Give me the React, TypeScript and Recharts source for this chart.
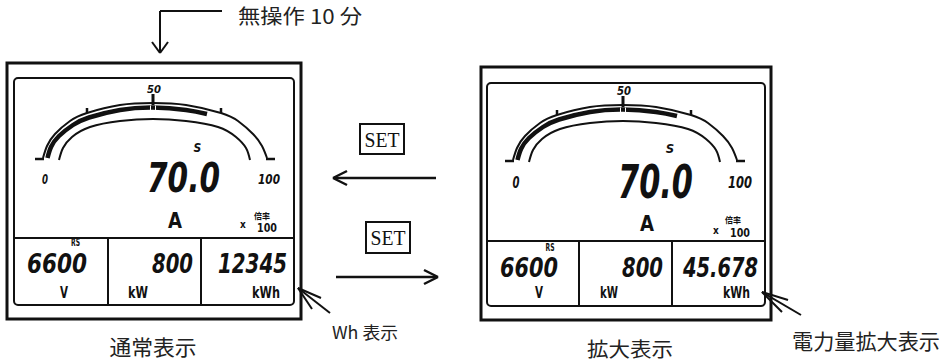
import React from "react";
import {
  ComposedChart,
  XAxis,
  YAxis,
  Line,
  ReferenceLine,
  ReferenceArea,
  ReferenceDot,
} from "recharts";

// gauge arcs (page px, y down)
const gaugeOuter: [number, number][] = [
  [43, 158], [47, 146], [55, 134], [70, 121], [87, 113], [120, 105],
  [153, 103], [186, 105], [221, 113], [238, 121], [253, 134], [262, 146], [267, 158],
];
const gaugeInner: [number, number][] = [
  [59, 160], [63, 148], [72, 137], [90, 127], [120, 121], [153, 119],
  [186, 121], [218, 127], [236, 137], [246, 148], [250, 160],
];
// filled bar graph, 0 .. ~70 %
const gaugeBar: [number, number][] = [
  [47.5, 158], [51, 147], [59, 136], [73, 125], [89, 117.5], [120, 110],
  [153, 107.5], [186, 110], [207, 114],
];

const scaleLabels = ["0", "50", "100"];
const mainReading = "70.0";
const mainUnit = "A";
const phaseLabel = "S";
const lineLabel = "RS";
const multiplier = ["x", "100", "倍率"];
const normalReadings = ["6600", "800", "12345"];
const enlargedReadings = ["6600", "800", "45.678"];
const cellUnits = ["V", "kW", "kWh"];
const captions = ["通常表示", "拡大表示"];
const notes = ["無操作 10 分", "Wh 表示", "電力量拡大表示"];
const keyLabel = "SET";

const INK = "#111";
const SEG = '"DejaVu Sans Condensed", "DejaVu Sans", sans-serif';
const JP = '"Noto Sans CJK JP", sans-serif';
const SERIF = '"Liberation Serif", "DejaVu Serif", serif';

type TOpt = {
  size: number;
  font?: string;
  weight?: number;
  italic?: boolean;
  len?: number;
  anchor?: "start" | "middle" | "end";
  base?: "central" | "auto";
  fill?: string;
};

function label(key: string, x: number, y: number, value: string, o: TOpt) {
  return (
    <ReferenceDot
      key={key}
      x={x}
      y={y}
      r={0}
      ifOverflow="visible"
      shape={(p: any) => (
        <text
          x={p.cx}
          y={p.cy}
          fill={o.fill ?? INK}
          fontSize={o.size}
          fontFamily={o.font ?? SEG}
          fontWeight={o.weight ?? 700}
          fontStyle={o.italic ? "italic" : "normal"}
          textAnchor={o.anchor ?? "start"}
          dominantBaseline={o.base ?? "auto"}
          textLength={o.len}
          lengthAdjust={o.len ? "spacingAndGlyphs" : undefined}
        >
          {value}
        </text>
      )}
    />
  );
}

function seg(key: string, x1: number, y1: number, x2: number, y2: number, w = 2, color = INK) {
  return (
    <ReferenceLine
      key={key}
      segment={[{ x: x1, y: y1 }, { x: x2, y: y2 }]}
      stroke={color}
      strokeWidth={w}
      ifOverflow="visible"
    />
  );
}

function box(key: string, r: number[], w: number, rx = 0) {
  return (
    <ReferenceArea
      key={key}
      x1={r[0]}
      y1={r[1]}
      x2={r[2]}
      y2={r[3]}
      ifOverflow="visible"
      shape={(p: any) => (
        <rect x={p.x} y={p.y} width={p.width} height={p.height} rx={rx}
          fill="none" stroke={INK} strokeWidth={w} />
      )}
    />
  );
}

function curve(key: string, pts: [number, number][], dx: number, dy: number, w: number) {
  return (
    <Line
      key={key}
      data={pts.map(([x, y]) => ({ x: x + dx, y: y + dy }))}
      dataKey="y"
      type="natural"
      stroke={INK}
      strokeWidth={w}
      dot={false}
      activeDot={false}
      isAnimationActive={false}
    />
  );
}

type Meter = {
  dx: number;
  dy: number;
  outer: number[];
  inner: number[];
  split: number;
  cols: number[];
  scale: [number, number, number, number][]; // x, y, size, len
  s: [number, number, number];
  main: [number, number, number, number];
  unit: [number, number, number];
  mul: [number, number, number, number, number, number]; // x-x, x-y, 100-x, 100-y, kanji-x, kanji-y
  rs: [number, number];
  cells: [number, number, number][];
  units: [number, number, number][];
};

const LEFT: Meter = {
  dx: 0,
  dy: 0,
  outer: [7, 63, 301, 319],
  inner: [14, 78, 294, 305],
  split: 238,
  cols: [108, 201],
  scale: [[45, 184, 14, 6], [154, 93, 11, 14], [269, 184, 14, 22]],
  s: [197.5, 152, 12],
  main: [147, 192, 41, 73],
  unit: [175, 228, 21],
  mul: [243, 228, 257, 232, 262, 215],
  rs: [75.5, 246],
  cells: [[27, 273, 60], [152, 273, 41], [218, 273, 69]],
  units: [[60, 298, 8], [128, 298, 20], [252, 298, 28]],
};

const RIGHT: Meter = {
  dx: 470,
  dy: 2,
  outer: [481, 67, 771, 320],
  inner: [487, 83, 765, 306],
  split: 241,
  cols: [579, 672],
  scale: [[516, 188, 16, 7], [624, 95, 12, 14], [740, 188, 16, 24]],
  s: [670, 153, 13],
  main: [618, 198, 46, 75],
  unit: [647, 231, 22],
  mul: [716, 234, 730, 237, 733, 219],
  rs: [550, 251],
  cells: [[500, 277, 58], [622, 277, 41], [683, 277, 75]],
  units: [[535, 298, 8], [600, 298, 18], [723, 298, 27]],
};

function meter(id: string, m: Meter, readings: string[]) {
  const { dx, dy } = m;
  const g = (k: string, x1: number, y1: number, x2: number, y2: number, w: number, c = INK) =>
    seg(id + k, x1 + dx, y1 + dy, x2 + dx, y2 + dy, w, c);
  const els: React.ReactNode[] = [
    box(id + "o", m.outer, 3),
    box(id + "i", m.inner, 2, 4),
    seg(id + "h", m.inner[0], m.split, m.inner[2], m.split, 2),
    ...m.cols.map((c, i) => seg(id + "c" + i, c, m.split, c, m.inner[3], 2)),
    curve(id + "ao", gaugeOuter, dx, dy, 2),
    curve(id + "ai", gaugeInner, dx, dy, 2),
    curve(id + "ab", gaugeBar, dx, dy, 4.5),
    g("t0", 35, 159, 44, 159, 2.5),
    g("t100", 266, 159, 275, 159, 2.5),
    g("t50", 153, 94, 153, 105, 3),
    g("w1", 150.5, 105.5, 150.5, 110, 1, "#fff"),
    g("w2", 155.5, 105.5, 155.5, 110, 1, "#fff"),
    g("t25", 87, 108, 87, 113, 2.5),
    g("t75", 221, 108, 221, 113, 2.5),
  ];
  scaleLabels.forEach((t, i) => {
    const [x, y, size, len] = m.scale[i];
    els.push(label(id + "s" + i, x, y, t, { size, len, italic: true, anchor: "middle" }));
  });
  els.push(label(id + "S", m.s[0], m.s[1], phaseLabel, { size: m.s[2], italic: true, anchor: "middle" }));
  els.push(label(id + "m", m.main[0], m.main[1], mainReading, { size: m.main[2], len: m.main[3], italic: true }));
  els.push(label(id + "u", m.unit[0], m.unit[1], mainUnit, { size: m.unit[2], len: 14, anchor: "middle" }));
  els.push(label(id + "mx", m.mul[0], m.mul[1], multiplier[0], { size: 10, anchor: "middle" }));
  els.push(label(id + "m1", m.mul[2], m.mul[3], multiplier[1], { size: 13, len: 20 }));
  els.push(label(id + "mk", m.mul[4], m.mul[5], multiplier[2], { size: 8, font: JP, anchor: "middle", base: "central" }));
  els.push(label(id + "rs", m.rs[0], m.rs[1], lineLabel, { size: 10, len: 9, anchor: "middle" }));
  readings.forEach((t, i) => {
    const [x, y, len] = m.cells[i];
    els.push(label(id + "r" + i, x, y, t, { size: 27, len, italic: true }));
  });
  cellUnits.forEach((t, i) => {
    const [x, y, len] = m.units[i];
    els.push(label(id + "n" + i, x, y, t, { size: 15, len }));
  });
  return els;
}

function annotations() {
  const cap = { font: JP, weight: 400, base: "central" as const, fill: "#222" };
  return [
    // 無操作 10 分 leader
    seg("a1", 160, 11, 222, 11, 2),
    seg("a2", 160, 11, 160, 53, 2),
    seg("a3", 152, 42, 160, 53, 2),
    seg("a4", 168, 42, 160, 53, 2),
    label("n0", 238, 15, notes[0], { ...cap, size: 20, len: 124 }),
    // SET keys and arrows
    box("k1", [360, 124, 404, 154], 2),
    label("k1t", 382, 140, keyLabel, { size: 21, len: 35, font: SERIF, weight: 400, anchor: "middle", base: "central" }),
    seg("l1", 334, 178, 436, 178, 2.5),
    seg("l2", 333, 178, 347, 171, 2.5),
    seg("l3", 333, 178, 347, 185, 2.5),
    box("k2", [366, 222, 410, 253], 2),
    label("k2t", 388, 238, keyLabel, { size: 21, len: 35, font: SERIF, weight: 400, anchor: "middle", base: "central" }),
    seg("r1", 336, 277, 437, 277, 2.5),
    seg("r2", 438, 277, 424, 270, 2.5),
    seg("r3", 438, 277, 424, 284, 2.5),
    // Wh pointer
    seg("w1", 298, 288, 330, 313, 2),
    seg("w2", 298, 288, 321, 298, 2),
    seg("w3", 298, 288, 312, 309, 2),
    label("n1", 332, 331, notes[1], { ...cap, size: 17, len: 66 }),
    // enlarged pointer
    seg("e1", 762, 292, 801, 315, 2),
    seg("e2", 762, 292, 788, 300, 2),
    seg("e3", 762, 292, 782, 312, 2),
    label("n2", 866, 340, notes[2], { ...cap, size: 21, len: 148, anchor: "middle" }),
    label("c0", 153, 346, captions[0], { ...cap, size: 21, len: 87, anchor: "middle" }),
    label("c1", 630, 348, captions[1], { ...cap, size: 20, len: 86, anchor: "middle" }),
  ];
}

export default function App() {
  return (
    <div style={{ position: "absolute", left: 0, top: 0, background: "#fff" }}>
      <ComposedChart width={942} height={362} margin={{ top: 0, right: 0, bottom: 0, left: 0 }}>
        <XAxis type="number" dataKey="x" domain={[0, 942]} hide allowDataOverflow />
        <YAxis type="number" domain={[0, 362]} reversed hide allowDataOverflow />
        {meter("L", LEFT, normalReadings)}
        {meter("R", RIGHT, enlargedReadings)}
        {annotations()}
      </ComposedChart>
    </div>
  );
}
